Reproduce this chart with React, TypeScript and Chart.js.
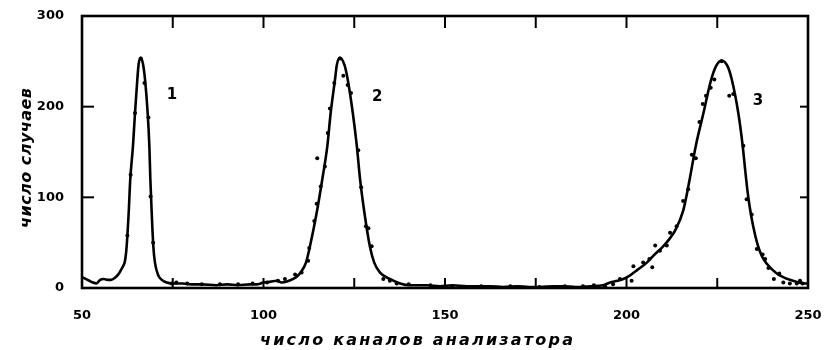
import React, { useEffect, useRef } from 'react';
import { Chart, registerables } from 'chart.js';

Chart.register(...registerables);

// ---- data ----
const curveX = [
  50, 51, 52, 53, 54, 55, 56, 57, 58, 59, 60, 60.6,
  61.3, 61.85, 62.3, 62.86, 63.3, 64.05, 64.6, 65.24, 65.6, 66.2, 66.8, 67.36, 68.09, 68.55, 68.83, 69.2, 69.65, 70.1, 71, 72, 73.3,
  75, 77.8, 80, 83, 87, 90, 93, 96.3, 98, 100, 102, 103.6, 105, 107, 108.2, 109.3,
  110.2, 111.7, 112.8, 114.65, 116.2, 117.6, 118.5, 119.7, 120.2, 121.07, 122.3, 123.2, 124.6, 125.7, 126.6, 127.8, 129.3, 130.5, 132.1, 134.8, 137.6,
  140.4, 145, 148.6, 152, 156, 160, 162.4, 166, 170, 173, 176.2, 180, 182.5, 186, 190, 193.5, 195.5, 197.5,
  199.1, 201, 203, 205.6, 207.5, 210.1, 212, 213.6, 215.6, 216.6, 217.5, 219.1, 221.2, 223.2, 224.7, 226.2, 227.8, 229, 230.8, 232, 232.7, 233.3, 234.0, 234.9, 236.1, 237.3, 238.6, 241.4, 245, 249.2, 250,
];
const curveY = [
  12, 10, 8, 6, 5, 9, 10, 9, 9, 11, 15, 19,
  24, 30, 46, 83, 120, 157, 193, 230, 247, 254, 247, 230, 193, 157, 120, 83, 46, 28, 14, 9, 6,
  5, 5, 4, 4, 3, 4, 3, 4, 4, 6, 7, 8, 6, 8, 10, 13,
  17, 28, 46, 83, 120, 157, 193, 230, 246, 254, 246, 230, 193, 157, 120, 83, 46, 28, 17, 10, 5,
  3, 3, 2, 3, 2, 2, 2, 1, 2, 1, 1, 2, 2, 1, 2, 3, 6, 8,
  10, 14, 20, 28, 36, 46, 55, 65, 85, 103, 122, 157, 193, 228, 245, 251, 245, 230, 193, 157, 130, 108, 88, 68, 48, 35, 27, 16, 9, 5, 5,
];
const dotX = [
  62.5, 63.4, 64.6, 66.2, 67.2, 68.3, 68.9, 69.6, 74.7,
  76, 79, 83, 88, 93, 97, 101, 104,
  105.9, 108.7, 110.5, 112.3, 112.6, 114.0, 114.65, 115.75, 116.9, 114.8, 117.7, 118.3, 119.5, 121.07, 122.0, 123.2, 124.1, 126.1, 126.9, 128.2, 128.9, 129.8, 133, 134.8, 136.7,
  140, 146, 152, 160, 168, 176, 183, 188, 191,
  194.1, 196.3, 198.2, 201.4, 201.9, 204.6, 206.3, 207.1, 207.9, 209.2, 211.1, 212.0, 213.8, 215.6, 217.0, 218.0, 219.1, 220.1, 221.0, 221.9, 223.2, 224.2, 226.2, 228.3, 229.4,
  232.2, 233.1, 234.5, 235.9, 237.5, 238.2, 239.1, 240.6, 242.1, 243.2, 245.0, 246.9, 247.8, 248.5,
];
const dotY = [
  58, 125, 193, 253, 226, 188, 101, 50, 5,
  6, 5, 4, 4, 4, 5, 6, 8,
  10, 15, 17, 30, 44, 74, 93, 112, 134, 143, 171, 198, 226, 253, 234, 224, 215, 152, 111, 68, 66, 46, 10, 8, 5,
  4, 3, 2, 2, 2, 1, 2, 2, 3,
  2, 4, 10, 8, 24, 28, 32, 23, 47, 41, 47, 61, 68, 96, 109, 147, 143, 183, 203, 212, 221, 230, 250, 212, 214,
  157, 98, 81, 43, 37, 32, 22, 10, 16, 6, 5, 5, 8, 5,
];
const xTickValues = [50, 100, 150, 200, 250];
const yTickValues = [0, 100, 200, 300];
const xMarkValues = [75, 100, 125, 150, 175, 200, 225];
const yMarkValues = [100, 200];
const peakNames = ['1', '2', '3'];
const peakNameX = [74.8, 131.3, 236.2];
const peakNameY = [212.8, 210.6, 206.2];
const xTitle = 'число каналов анализатора';
const yTitle = 'число случаев';

function fittedText(ctx: CanvasRenderingContext2D, text: string, x: number, y: number, width: number) {
  (ctx as any).letterSpacing = '0px';
  const w0 = ctx.measureText(text).width;
  const n = Array.from(text).length;
  const sp = n > 1 ? (width - w0) / (n - 1) : 0;
  (ctx as any).letterSpacing = sp + 'px';
  ctx.textAlign = 'left';
  ctx.fillText(text, x, y);
  (ctx as any).letterSpacing = '0px';
}

const framePlugin = {
  id: 'framePlugin',
  afterDraw(chart: any) {
    const { ctx, chartArea: a, scales } = chart;
    const xs = scales.x;
    const ys = scales.y;
    ctx.save();
    ctx.strokeStyle = '#000';
    ctx.fillStyle = '#000';
    ctx.lineCap = 'butt';
    ctx.lineWidth = 2.6;
    ctx.strokeRect(a.left, a.top, a.right - a.left, a.bottom - a.top);
    ctx.lineWidth = 2;
    const line = (x1: number, y1: number, x2: number, y2: number) => {
      ctx.beginPath();
      ctx.moveTo(x1, y1);
      ctx.lineTo(x2, y2);
      ctx.stroke();
    };
    for (const v of xMarkValues) {
      const px = xs.getPixelForValue(v);
      line(px, a.top, px, a.top + 12);
      line(px, a.bottom, px, a.bottom - 10);
    }
    for (const v of yMarkValues) {
      const py = ys.getPixelForValue(v);
      line(a.left, py, a.left + 12, py);
      line(a.right, py, a.right - 8, py);
    }
    // peak labels
    ctx.font = 'bold 15px "DejaVu Sans"';
    ctx.textAlign = 'center';
    ctx.textBaseline = 'middle';
    peakNames.forEach((t, i) => {
      ctx.fillText(t, xs.getPixelForValue(peakNameX[i]), ys.getPixelForValue(peakNameY[i]));
    });
    // x title
    ctx.textBaseline = 'alphabetic';
    ctx.font = 'italic bold 16px "DejaVu Sans"';
    fittedText(ctx, xTitle, 260, 345, 313);
    // y title
    ctx.save();
    ctx.translate(31, 228);
    ctx.rotate(-Math.PI / 2);
    ctx.font = 'italic bold 16px "DejaVu Sans"';
    fittedText(ctx, yTitle, 0, 0, 140);
    ctx.restore();
    ctx.restore();
  },
};

const zeroPad = (s: any) => {
  s.paddingTop = 0;
  s.paddingBottom = 0;
  s.paddingLeft = 0;
  s.paddingRight = 0;
};

export default function App() {
  const ref = useRef<HTMLCanvasElement>(null);
  useEffect(() => {
    document.body.style.margin = '0';
    const curve = curveX.map((x, i) => ({ x, y: curveY[i] }));
    const dots = dotX.map((x, i) => ({ x, y: dotY[i] }));
    const tickFont = { family: '"DejaVu Sans"', weight: 'bold' as const, size: 13 };
    const chart = new Chart(ref.current!, {
      type: 'line',
      data: {
        datasets: [
          {
            data: curve,
            borderColor: '#000',
            borderWidth: 2.6,
            pointRadius: 0,
            cubicInterpolationMode: 'monotone',
            fill: false,
          },
          {
            data: dots,
            showLine: false,
            pointRadius: 2,
            pointBackgroundColor: '#000',
            pointBorderWidth: 0,
            borderColor: '#000',
          },
        ],
      },
      options: {
        responsive: false,
        maintainAspectRatio: false,
        animation: false,
        devicePixelRatio: 1,
        layout: { padding: { left: 0, right: 16, top: 16, bottom: 0 } },
        plugins: { legend: { display: false }, tooltip: { enabled: false }, title: { display: false } },
        scales: {
          x: {
            type: 'linear',
            min: 50,
            max: 250,
            grid: { display: false, drawTicks: false },
            border: { display: false },
            ticks: { color: '#000', font: tickFont, padding: 20, maxRotation: 0 },
            afterBuildTicks: (s: any) => {
              s.ticks = xTickValues.map((value) => ({ value }));
            },
            afterFit: (s: any) => {
              s.height = 62;
              zeroPad(s);
            },
          },
          y: {
            type: 'linear',
            min: 0,
            max: 300,
            grid: { display: false, drawTicks: false },
            border: { display: false },
            ticks: { color: '#000', font: tickFont, padding: 18 },
            afterBuildTicks: (s: any) => {
              s.ticks = yTickValues.map((value) => ({ value }));
            },
            afterFit: (s: any) => {
              s.width = 82;
              zeroPad(s);
            },
          },
        },
      } as any,
      plugins: [framePlugin],
    });
    return () => {
      chart.destroy();
    };
  }, []);
  return (
    <div style={{ position: 'absolute', left: 0, top: 0, width: 824, height: 350, background: '#fff' }}>
      <canvas ref={ref} width={824} height={350} style={{ display: 'block', width: 824, height: 350 }} />
    </div>
  );
}
